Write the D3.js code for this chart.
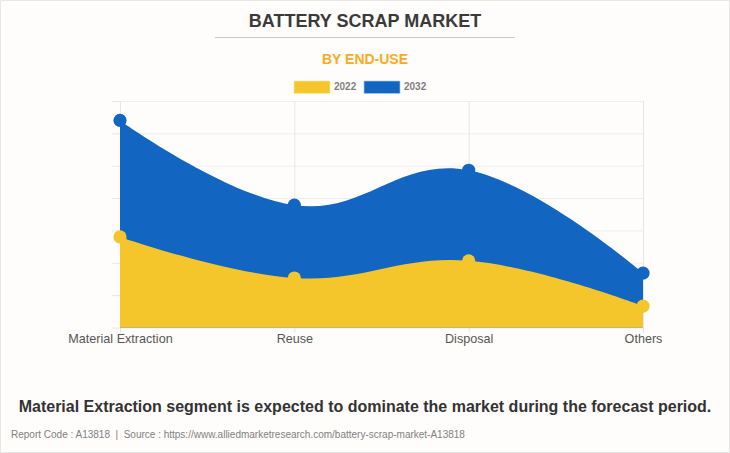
<!DOCTYPE html>
<html><head><meta charset="utf-8">
<script src="https://cdn.jsdelivr.net/npm/d3@7"></script>
<style>
html,body{margin:0;padding:0;background:#fffdfc;overflow:hidden}
svg{display:block}
text{font-family:"Liberation Sans",Arial,sans-serif}
</style></head><body>
<svg id="c" width="730" height="453"></svg>
<script>
const categories = ["Material Extraction","Reuse","Disposal","Others"];
const years = ["2022","2032"];
const values2022 = [14.0,7.65,10.3,3.3];
const values2032 = [32.0,18.9,24.3,8.4];
const yTicks = [0,5,10,15,20,25,30,35];
const colors = {"2022":"#f4c62c","2032":"#1266c2"};
const titleText = "BATTERY SCRAP MARKET";
const subtitleText = "BY END-USE";
const headline = "Material Extraction segment is expected to dominate the market during the forecast period.";
const footer = "Report Code : A13818  |  Source : https://www.alliedmarketresearch.com/battery-scrap-market-A13818";

const svg = d3.select("#c");
const W = 730, H = 453;
const L = 120, R = 643, T = 101, B = 327.5;
svg.append("rect").attr("width",W).attr("height",H).attr("fill","#fffdfc");
svg.append("path").attr("d",`M0.5,${H}V0.5H${W-0.5}V${H}`).attr("fill","none").attr("stroke","#e6e6e6");
svg.append("line").attr("x1",0).attr("x2",W).attr("y1",H-0.5).attr("y2",H-0.5).attr("stroke","#e6e6e6");

svg.append("text").attr("x",365).attr("y",27).attr("text-anchor","middle")
  .attr("font-size",18).attr("font-weight","bold").attr("fill","#3a3a3a").text(titleText);
svg.append("line").attr("x1",215).attr("x2",515).attr("y1",37.5).attr("y2",37.5).attr("stroke","#c8c8c8");
svg.append("text").attr("x",365).attr("y",63.5).attr("text-anchor","middle")
  .attr("font-size",14).attr("font-weight","bold").attr("fill","#fbaa22").text(subtitleText);

const x = d3.scalePoint().domain(categories).range([L,R]);
const y = d3.scaleLinear().domain([0,35]).range([B,T]);

const gy = svg.append("g").attr("transform",`translate(${L},0)`)
  .call(d3.axisLeft(y).tickValues(yTicks).tickSize(8).tickFormat(""));
gy.select(".domain").remove();
gy.selectAll(".tick line").attr("stroke","#e6e6e6");
gy.selectAll(".tick").append("line").attr("x1",0).attr("x2",R-L).attr("stroke","#eeeeee");

const gx = svg.append("g").attr("transform",`translate(0,${B})`)
  .call(d3.axisBottom(x).tickSize(5).tickPadding(2));
gx.select(".domain").remove();
gx.selectAll(".tick line").attr("stroke","#e0e0e0");
gx.selectAll(".tick").append("line").attr("y1",0).attr("y2",T-B).attr("stroke","#e6e6e6");
gx.selectAll("text").attr("font-size",12.6).attr("fill","#555")
  .style("font-family",'"Liberation Sans",Arial,sans-serif');

const curve = d3.curveCardinal.tension(-0.2);
const series = [{k:"2032",v:values2032},{k:"2022",v:values2022}];
series.forEach(s=>{
  const area = d3.area().x((d,i)=>x(categories[i])).y0(y(0)).y1(d=>y(d)).curve(curve);
  svg.append("path").datum(s.v).attr("d",area).attr("fill",colors[s.k]);
});
series.forEach(s=>{
  svg.append("g").selectAll("circle").data(s.v).join("circle")
    .attr("cx",(d,i)=>x(categories[i])).attr("cy",d=>y(d)).attr("r",6.6).attr("fill",colors[s.k]);
});

// legend
const lx = d3.scaleOrdinal().domain(years).range([294,364]);
years.forEach(k=>{
  svg.append("rect").attr("x",lx(k)).attr("y",81).attr("width",36).attr("height",12.5)
    .attr("fill",colors[k]).attr("stroke",k==="2022"?"#fbe9a8":"#a9c8ea").attr("stroke-width",0.7);
  svg.append("text").attr("x",lx(k)+40).attr("y",90).attr("font-size",10).attr("font-weight","bold")
    .attr("fill","#808080").text(k);
});

svg.append("text").attr("x",365).attr("y",412).attr("text-anchor","middle")
  .attr("font-size",16).attr("font-weight","bold").attr("fill","#333").text(headline);
svg.append("text").attr("x",11).attr("y",438).attr("font-size",10).attr("fill","#808080")
  .attr("xml:space","preserve").style("white-space","pre").text(footer);
</script>
</body></html>
